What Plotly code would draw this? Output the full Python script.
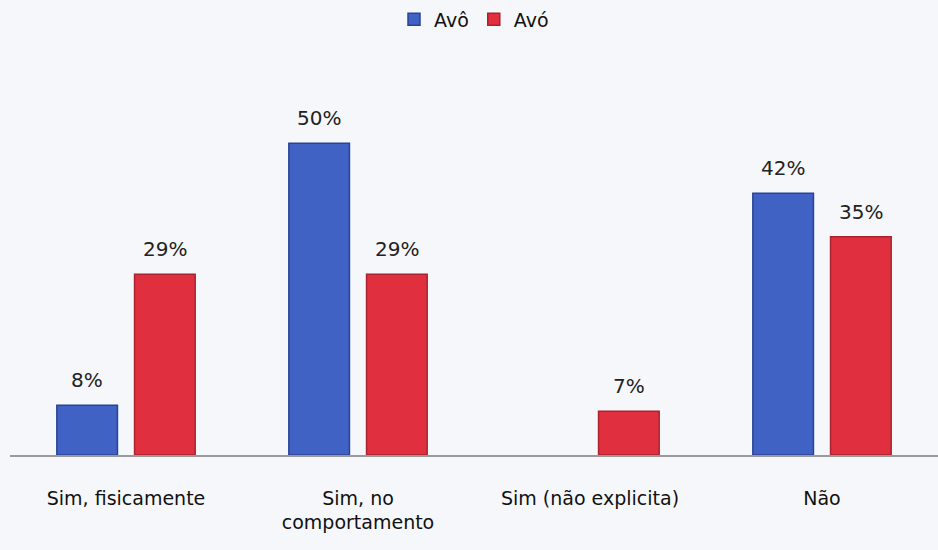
import plotly.graph_objects as go

categories = ["Sim, fisicamente", "Sim, no<br>comportamento", "Sim (não explicita)", "Não"]
avo_m = [8, 50, None, 42]   # Avô
avo_f = [29, 29, 7, 35]     # Avó
series_names = ["Avô", "Avó"]

blue, blue_edge = "#4062c4", "#2b4396"
red, red_edge = "#e0303f", "#a9222e"

fig = go.Figure()
fig.add_trace(go.Bar(x=categories, y=avo_m, name=series_names[0],
                     marker=dict(color=blue, line=dict(color=blue_edge, width=1.5))))
fig.add_trace(go.Bar(x=categories, y=avo_f, name=series_names[1],
                     marker=dict(color=red, line=dict(color=red_edge, width=1.5))))

# value labels above each bar
for vals, shift in ((avo_m, -39), (avo_f, 39)):
    for c, v in zip(categories, vals):
        if v is None:
            continue
        fig.add_annotation(x=c, y=v, text=f"{v}%", showarrow=False,
                           xshift=shift, yshift=11, yanchor="bottom",
                           font=dict(size=20, color="#222"))

fig.update_layout(
    width=938, height=550,
    paper_bgcolor="#f6f7fb", plot_bgcolor="#f6f7fb",
    margin=dict(l=10, r=0, t=77, b=95),
    barmode="group", bargap=0.33, bargroupgap=0.22,
    font=dict(family="DejaVu Sans, sans-serif", color="#111"),
    legend=dict(orientation="h", x=0.5, xanchor="center", y=1.165, yanchor="middle",
                font=dict(size=19), bgcolor="rgba(0,0,0,0)", itemwidth=30),
    showlegend=True,
)
fig.update_xaxes(showline=True, linecolor="#9a9a9a", linewidth=1.5,
                 tickfont=dict(size=19), ticks="", ticklabelstandoff=25,
                 showgrid=False)
fig.update_yaxes(range=[0, 60], visible=False)

fig.write_html("out.html")
